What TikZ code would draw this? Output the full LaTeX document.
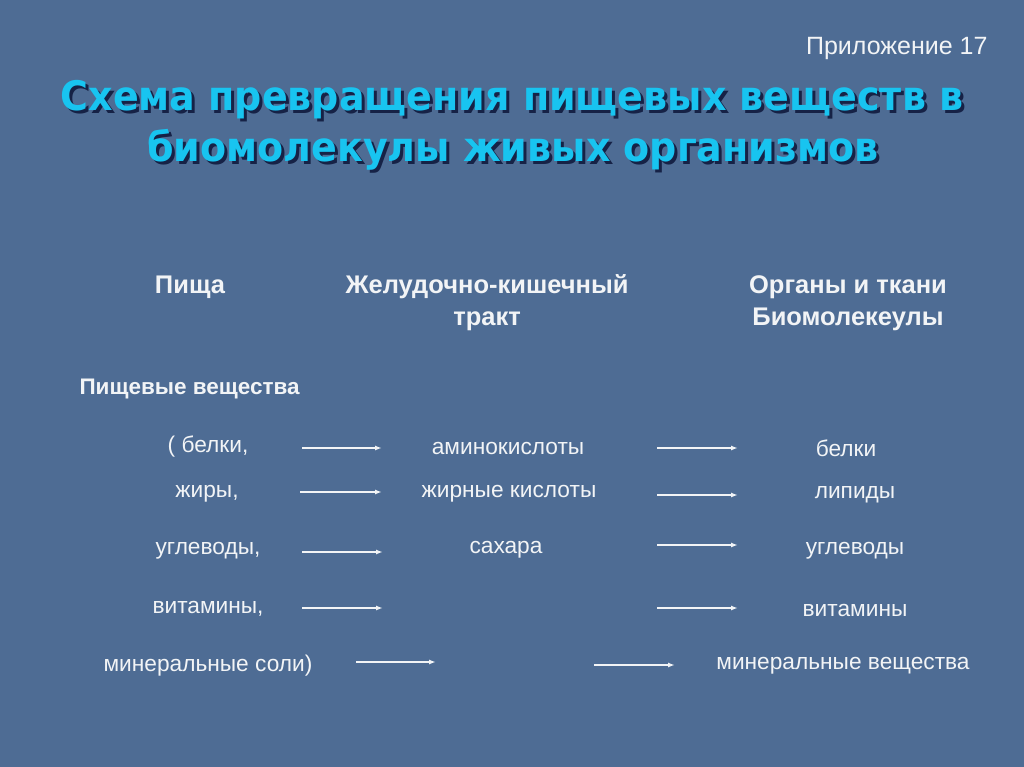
\documentclass[tikz,border=0pt]{standalone}
\usepackage{fontspec}
\usepackage{graphicx}
\setmainfont{Liberation Sans}
\newfontfamily\titlefont{DejaVu Sans}
\usetikzlibrary{arrows.meta}

\definecolor{slide}{RGB}{78,108,148}
\definecolor{titlecyan}{RGB}{24,196,240}
\definecolor{titleshadow}{RGB}{22,34,70}
\definecolor{ink}{RGB}{242,244,246}

\newcommand{\tall}[1]{\scalebox{1}[1.07]{#1}}

\tikzset{
	head/.style={text=ink, font=\fontsize{25.5}{32}\selectfont\bfseries, align=center},
	item/.style={text=ink, font=\fontsize{22.7}{27}\selectfont},
	arr/.style={draw=ink, line width=1.4pt, -{Latex[length=7pt,width=5pt]}},
	titletext/.style={font=\titlefont\fontsize{38}{46}\selectfont\bfseries},
}

\begin{document}
\begin{tikzpicture}[x=1pt, y=-1pt]
	\fill[slide] (0, 0) rectangle (1024, 767);
	\useasboundingbox (0, 0) rectangle (1024, 767);

	% title
	\node[text=ink, anchor=east, font=\fontsize{25}{28}\selectfont] (app) at (991, 48) {Приложение 17};
	\node[titletext, text=titleshadow] (shadow1) at (515, 102.5) {\tall{Схема превращения пищевых веществ в}};
	\node[titletext, text=titlecyan] (title1) at (512, 100) {\tall{Схема превращения пищевых веществ в}};
	\node[titletext, text=titleshadow] (shadow2) at (516, 152.5) {\tall{биомолекулы живых организмов}};
	\node[titletext, text=titlecyan] (title2) at (513, 150) {\tall{биомолекулы живых организмов}};

	% column heads
	\node[head] (food) at (190, 287) {Пища};
	\node[head] (gut) at (487, 303) {Желудочно-кишечный\\тракт};
	\node[head] (organs) at (848, 303) {Органы и ткани\\Биомолекеулы};
	\node[head, anchor=west, font=\fontsize{22.5}{27}\selectfont\bfseries] (nutr) at (76, 389) {Пищевые вещества};

	% food
	\node[item] (f1) at (208, 447) {( белки,};
	\node[item] (f2) at (207, 494) {жиры,};
	\node[item] (f3) at (208, 551) {углеводы,};
	\node[item] (f4) at (208, 609) {витамины,};
	\node[item] (f5) at (208, 666) {минеральные соли)};

	% digestion
	\node[item] (g1) at (508, 449) {аминокислоты};
	\node[item] (g2) at (509, 494) {жирные кислоты};
	\node[item] (g3) at (506, 550) {сахара};

	% tissues
	\node[item] (t1) at (846, 448) {белки};
	\node[item] (t2) at (855, 495) {липиды};
	\node[item] (t3) at (855, 551) {углеводы};
	\node[item] (t4) at (855, 610) {витамины};
	\node[item] (t5) at (843, 666) {минеральные вещества};

	% arrows
	\foreach \n/\xa/\xb/\y in {a1/302/382/448, a2/300/382/492, a3/302/383/552, a4/302/383/608, a5/356/436/662,
		b1/657/738/448, b2/657/738/495, b3/657/738/545, b4/657/738/608, b5/594/675/665} {
		\coordinate (\n s) at (\xa, \y);
		\coordinate (\n e) at (\xb, \y);
		\draw[arr] (\n s) -- (\n e);
	}
\end{tikzpicture}
\end{document}
